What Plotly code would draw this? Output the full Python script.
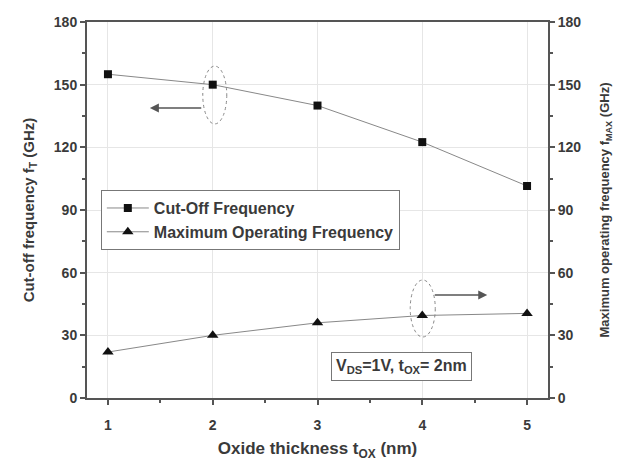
import plotly.graph_objects as go

thickness = [1, 2, 3, 4, 5]
cutoff_freq = [155, 150, 140, 122.5, 101.5]
max_freq = [22, 30, 36, 39.5, 40.5]
y_ticks = [0, 30, 60, 90, 120, 150, 180]
x_ticks = [1, 2, 3, 4, 5]

FONT = "Liberation Sans, Arial, sans-serif"
TXT = "#3a3a3a"

fig = go.Figure()
fig.add_trace(go.Scatter(
    x=thickness, y=cutoff_freq, name="<b>Cut-Off Frequency</b>",
    mode="lines+markers",
    line=dict(color="#888888", width=1),
    marker=dict(symbol="square", size=8, color="#111111"),
))
fig.add_trace(go.Scatter(
    x=thickness, y=max_freq, name="<b>Maximum Operating Frequency</b>",
    mode="lines+markers",
    line=dict(color="#888888", width=1),
    marker=dict(symbol="triangle-up", size=10, color="#111111"),
    yaxis="y2",
))

axis_common = dict(
    showline=True, linecolor="#555555", linewidth=2,
    ticks="outside", ticklen=5, tickwidth=1.5, tickcolor="#555555",
    zeroline=False, automargin=False,
    tickfont=dict(family=FONT, size=14, color=TXT, weight="bold"),
)

fig.update_layout(
    width=632, height=461,
    margin=dict(l=87, r=84, t=22, b=63),
    paper_bgcolor="white", plot_bgcolor="white",
    font=dict(family=FONT, color=TXT),
    showlegend=True,
    legend=dict(
        x=0.03, y=0.553, xanchor="left", yanchor="top",
        bordercolor="#777777", borderwidth=1, bgcolor="white",
        font=dict(family=FONT, size=16, color=TXT),
        tracegroupgap=0, itemwidth=42,
    ),
    xaxis=dict(
        range=[0.8, 5.2], tickvals=x_ticks, mirror=True,
        showgrid=True, gridcolor="#e6e6e6", gridwidth=1,
        ticklabelstandoff=8,
        minor=dict(ticks="outside", ticklen=3, dtick=0.5, tick0=0.5, tickcolor="#555555", showgrid=False),
        title=dict(text="<b>Oxide thickness t<sub>OX</sub> (nm)</b>", font=dict(family=FONT, size=17, color=TXT), standoff=12),
        **axis_common,
    ),
    yaxis=dict(
        range=[0, 180], tickvals=y_ticks,
        showgrid=True, gridcolor="#e6e6e6", gridwidth=1,
        minor=dict(ticks="outside", ticklen=3, dtick=15, tickcolor="#555555", showgrid=False),
        title=dict(text="<b>Cut-off frequency f<sub>T</sub> (GHz)</b>", font=dict(family=FONT, size=15, color=TXT), standoff=16),
        **axis_common,
    ),
    yaxis2=dict(
        range=[0, 180], tickvals=y_ticks, overlaying="y", side="right",
        showgrid=False,
        minor=dict(ticks="outside", ticklen=3, dtick=15, tickcolor="#555555", showgrid=False),
        title=dict(text="<b>Maximum operating frequency f<sub>MAX</sub> (GHz)</b>", font=dict(family=FONT, size=13, color=TXT), standoff=20),
        **axis_common,
    ),
)

# dashed ellipses
fig.add_shape(type="circle", xref="x", yref="y", x0=1.905, x1=2.134, y0=131.2, y1=158.9,
              line=dict(color="#888888", width=1, dash="dot"))
fig.add_shape(type="circle", xref="x", yref="y", x0=3.885, x1=4.124, y0=29.2, y1=56.5,
              line=dict(color="#888888", width=1, dash="dot"))

# arrows
fig.add_annotation(x=1.40, y=138.8, ax=1.905, ay=138.8, xref="x", yref="y", axref="x", ayref="y",
                   showarrow=True, arrowhead=2, arrowsize=1.2, arrowwidth=1.5, arrowcolor="#555555", text="")
fig.add_annotation(x=4.62, y=49.3, ax=4.105, ay=49.3, xref="x", yref="y", axref="x", ayref="y",
                   showarrow=True, arrowhead=2, arrowsize=1.2, arrowwidth=1.5, arrowcolor="#555555", text="")

# condition box
fig.add_annotation(x=3.80, y=15.1, xref="x", yref="y", showarrow=False,
                   text="<b>V<sub>DS</sub>=1V, t<sub>OX</sub>= 2nm</b>",
                   font=dict(family=FONT, size=16, color=TXT),
                   bordercolor="#777777", borderwidth=1, borderpad=4, bgcolor="white")

fig.write_html("out.html")
